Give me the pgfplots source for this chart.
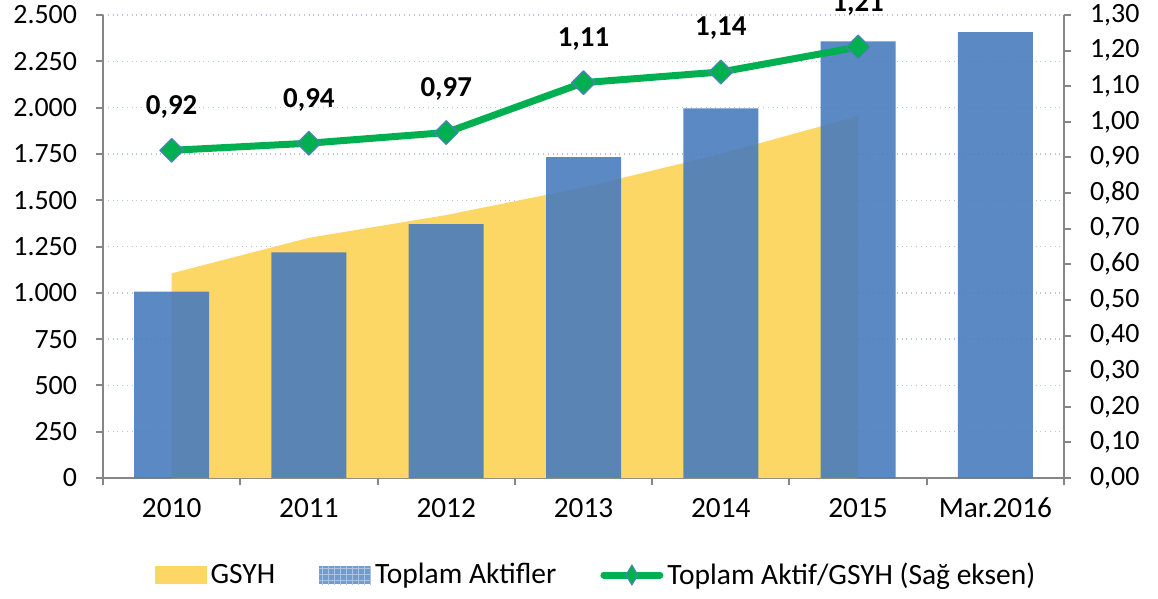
\documentclass[border=0pt]{standalone}
\usepackage{fontspec}
\setmainfont{Carlito}
\usepackage{pgfplots}
\pgfplotsset{compat=1.18}
\usetikzlibrary{patterns}
\definecolor{gsyh}{HTML}{FDD766}
\definecolor{aktif}{HTML}{497CBD}
\definecolor{oran}{HTML}{00B050}
\definecolor{axgray}{HTML}{868686}
\definecolor{gridblue}{HTML}{B4C6E0}
\definecolor{mkedge}{HTML}{4F81BD}

\begin{document}
\begin{tikzpicture}[font=\fontsize{14}{16}\selectfont]
\pgfplotsset{
  every axis/.append style={
    scale only axis, width=480.5bp, height=231.5bp,
    xmin=-0.5, xmax=6.5,
    axis line style={draw=axgray, line width=1bp},
    tick align=outside, major tick length=3.5bp,
    tick style={axgray, line width=1bp},
    /pgf/number format/assume math mode=true,
    tick label style={font=\fontsize{14}{16}\selectfont},
  },
}
\begin{axis}[
  name=main,
  ymin=0, ymax=2500,
  axis x line*=bottom, axis y line*=left,
  xtick={-0.5,0.5,...,6.5},
  xticklabels={2010,2011,2012,2013,2014,2015,Mar.2016,},
  xticklabel style={xshift=34.32bp, font=\fontsize{14.7}{16}\selectfont},
  xticklabel shift=3bp,
  ytick={0,250,...,2500},
  scaled y ticks=false,
  yticklabel style={/pgf/number format/.cd, 1000 sep={.}},
  yticklabel shift=6bp,
  ymajorgrids, grid style={gridblue, dotted, line width=0.7bp},
  legend style={at={(axis description cs:0.514,-0.2095)}, anchor=center,
    draw=none, fill=none, font=\fontsize{14.8}{16}\selectfont,
    /tikz/every even column/.append style={column sep=20bp}},
  legend columns=-1,
]
\coordinate (bl) at (rel axis cs:0,0);
\coordinate (tr) at (rel axis cs:1,1);
% GSYH (area)
\addplot[fill=gsyh, draw=none,
  legend image code/.code={\fill[gsyh] (0bp,-4.5bp) rectangle (26bp,4.5bp);}]
  coordinates {(0,1105) (1,1297) (2,1420) (3,1569) (4,1750) (5,1954)} \closedcycle;
\addlegendentry{GSYH}
% Toplam Aktifler (bars)
\addplot[ybar, bar width=37.5bp, fill=aktif, fill opacity=0.9, draw=none,
  legend image code/.code={
    \fill[aktif!85!white] (0bp,-4.5bp) rectangle (26bp,4.5bp);
    \fill[pattern=grid, pattern color=white!55!aktif] (0bp,-4.5bp) rectangle (26bp,4.5bp);}]
  coordinates {(0,1007) (1,1218) (2,1371) (3,1732) (4,1996) (5,2357) (6,2408)};
\addlegendentry{Toplam Aktifler}
\addlegendimage{legend image code/.code={
    \draw[oran, line width=3.5bp, line cap=round] (0bp,0bp) -- (28bp,0bp);
    \path[fill=oran, draw=mkedge, line width=0.5bp] (14bp,-5bp) -- (17bp,0bp) -- (14bp,5bp) -- (11bp,0bp) -- cycle;}}
\addlegendentry{Toplam Aktif/GSYH (Sağ eksen)}
\end{axis}

\begin{axis}[
  ymin=0, ymax=1.3,
  axis y line*=right, axis x line=none,
  ytick={0,0.1,0.2,0.3,0.4,0.5,0.6,0.7,0.8,0.9,1.0,1.1,1.2,1.3},
  yticklabel style={/pgf/number format/.cd, fixed, fixed zerofill, precision=2, use comma},
  yticklabel shift=6bp,
]
\addplot[oran, line width=3.5bp, line join=round,
  mark=square*, mark size=4.2bp,
  mark options={rotate=45, fill=oran, draw=mkedge, line width=0.6bp},
  nodes near coords={\pgfmathprintnumber[fixed, fixed zerofill, precision=2, use comma]{\pgfplotspointmeta}},
  nodes near coords style={font=\fontsize{14.5}{16}\selectfont\bfseries, text=black, anchor=base, yshift=18bp},
  point meta=y]
  coordinates {(0,0.92) (1,0.94) (2,0.97) (3,1.11) (4,1.14) (5,1.21)};
\end{axis}
\pgfresetboundingbox
\path ([shift={(-51.5bp,-60bp)}]bl) rectangle ([shift={(47bp,7.5bp)}]tr);
\end{tikzpicture}
\end{document}
